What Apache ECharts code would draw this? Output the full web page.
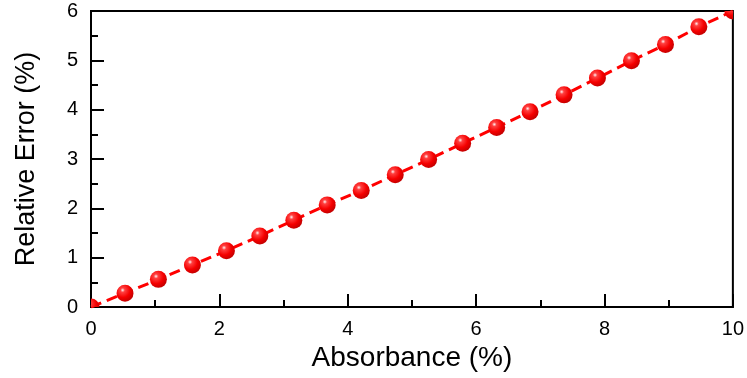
<!DOCTYPE html>
<html>
<head>
<meta charset="utf-8">
<script src="https://cdn.jsdelivr.net/npm/echarts@6/dist/echarts.min.js"></script>
<style>
  html, body { margin: 0; padding: 0; background: #fff; }
  #chart { width: 747px; height: 378px; }
</style>
</head>
<body>
<div id="chart"></div>
<script>
// Absorbance (%) at each measurement point
const absorbance = [0, 0.53, 1.05, 1.58, 2.11, 2.63, 3.16, 3.68, 4.21, 4.74,
                    5.26, 5.79, 6.32, 6.84, 7.37, 7.89, 8.42, 8.95, 9.47, 10];
// Relative error (%) at each point
const relativeError = [0, 0.28, 0.56, 0.85, 1.14, 1.44, 1.76, 2.07, 2.36, 2.68,
                       2.99, 3.32, 3.64, 3.96, 4.30, 4.64, 4.99, 5.32, 5.68, 6.0];

const xTitle = 'Absorbance (%)';
const yTitle = 'Relative Error (%)';

const points = absorbance.map((x, i) => [x, relativeError[i]]);

const font = 'Liberation Sans, Arial, sans-serif';

function axisStyle(labelMargin, titleSize) {
  return {
    axisLine: { show: true, onZero: false, lineStyle: { color: '#000', width: 2 } },
    axisTick: { show: true, inside: true, length: 13, lineStyle: { color: '#000', width: 2 } },
    minorTick: { show: true, splitNumber: 2, length: 7, lineStyle: { color: '#000', width: 2 } },
    splitLine: { show: false },
    axisLabel: { color: '#000', fontSize: 20, fontFamily: font, margin: labelMargin },
    nameLocation: 'middle',
    nameTextStyle: { color: '#000', fontSize: titleSize, fontFamily: font }
  };
}

// Shaded sphere markers, clipped to the plot frame like the line
const sphereFill = new echarts.graphic.RadialGradient(0.36, 0.32, 0.72, [
  { offset: 0, color: '#fff4f4' },
  { offset: 0.18, color: '#ff4040' },
  { offset: 0.6, color: '#f50000' },
  { offset: 1, color: '#c00000' }
]);

function renderSphere(params, api) {
  const c = api.coord([api.value(0), api.value(1)]);
  return {
    type: 'circle',
    shape: { cx: c[0], cy: c[1], r: 8.5 },
    style: { fill: sphereFill, stroke: null }
  };
}

const chart = echarts.init(document.getElementById('chart'), null, { renderer: 'canvas' });
chart.setOption({
  animation: false,
  backgroundColor: '#fff',
  grid: {
    left: 91, right: 12, top: 11, bottom: 71,
    show: true, borderColor: '#000', borderWidth: 2, backgroundColor: 'transparent'
  },
  xAxis: Object.assign(axisStyle(12, 28), {
    type: 'value', min: 0, max: 10, interval: 2,
    name: xTitle, nameGap: 36
  }),
  yAxis: Object.assign(axisStyle(13, 27), {
    type: 'value', min: 0, max: 6, interval: 1,
    name: yTitle, nameGap: 51
  }),
  series: [
    {
      type: 'line',
      data: points,
      clip: true,
      symbol: 'none',
      lineStyle: { color: '#ff0000', width: 3, type: [11, 6] },
      z: 2
    },
    {
      type: 'custom',
      data: points,
      clip: true,
      renderItem: renderSphere,
      z: 3
    }
  ]
});
</script>
</body>
</html>
